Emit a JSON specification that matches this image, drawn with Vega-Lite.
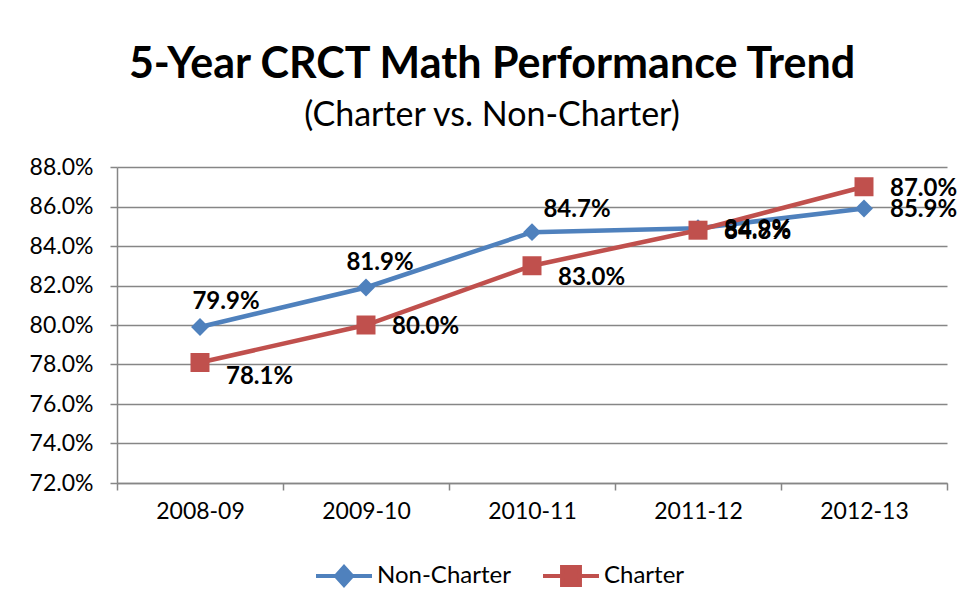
{
  "$schema": "https://vega.github.io/schema/vega-lite/v6.json",
  "width": 830,
  "height": 316,
  "autosize": "none",
  "padding": {"left": 117, "top": 167, "right": 19, "bottom": 125},
  "background": "white",
  "title": {
    "text": "5-Year CRCT Math Performance Trend",
    "subtitle": "(Charter vs. Non-Charter)",
    "anchor": "middle",
    "dx": -40,
    "font": "Lato",
    "fontSize": 43,
    "fontWeight": "bold",
    "color": "black",
    "subtitleFont": "Lato",
    "subtitleFontSize": 34,
    "subtitleColor": "black",
    "subtitlePadding": 12,
    "offset": 23
  },
  "data": {
    "values": [
      {"year": "2008-09", "series": "Non-Charter", "value": 0.799},
      {"year": "2009-10", "series": "Non-Charter", "value": 0.819},
      {"year": "2010-11", "series": "Non-Charter", "value": 0.847},
      {"year": "2011-12", "series": "Non-Charter", "value": 0.849},
      {"year": "2012-13", "series": "Non-Charter", "value": 0.859},
      {"year": "2008-09", "series": "Charter", "value": 0.781},
      {"year": "2009-10", "series": "Charter", "value": 0.800},
      {"year": "2010-11", "series": "Charter", "value": 0.830},
      {"year": "2011-12", "series": "Charter", "value": 0.848},
      {"year": "2012-13", "series": "Charter", "value": 0.870}
    ]
  },
  "encoding": {
    "x": {
      "field": "year", "type": "ordinal",
      "scale": {"type": "band", "paddingInner": 0, "paddingOuter": 0, "domain": ["2008-09","2009-10","2010-11","2011-12","2012-13"]},
      "axis": {
        "title": null, "labelAngle": 0, "labelFont": "Lato", "labelFontSize": 23, "labelColor": "black",
        "tickBand": "extent", "tickSize": 7, "tickColor": "#868686", "tickWidth": 1.5,
        "domainColor": "#868686", "domainWidth": 1.5, "labelPadding": 10, "grid": false
      }
    },
    "y": {
      "field": "value", "type": "quantitative",
      "scale": {"domain": [0.72, 0.88], "nice": false, "zero": false},
      "axis": {
        "title": null, "format": ".1%", "values": [0.72,0.74,0.76,0.78,0.80,0.82,0.84,0.86,0.88],
        "labelFont": "Lato", "labelFontSize": 23, "labelColor": "black", "labelPadding": 17,
        "tickSize": 7, "tickColor": "#868686", "tickWidth": 1.5,
        "domainColor": "#868686", "domainWidth": 1.5,
        "grid": true, "gridColor": "#868686", "gridWidth": 1.5
      }
    }
  },
  "layer": [
    {
      "transform": [{"filter": "datum.series === 'Non-Charter'"}],
      "mark": {"type": "line", "color": "#4F81BD", "strokeWidth": 4.5}
    },
    {
      "transform": [{"filter": "datum.series === 'Non-Charter'"}],
      "mark": {"type": "point", "shape": "diamond", "filled": true, "color": "#4F81BD", "size": 320, "opacity": 1}
    },
    {
      "transform": [{"filter": "datum.series === 'Charter'"}],
      "mark": {"type": "line", "color": "#C0504D", "strokeWidth": 4.5}
    },
    {
      "transform": [{"filter": "datum.series === 'Charter'"}],
      "mark": {"type": "point", "shape": "square", "filled": true, "color": "#C0504D", "size": 361, "opacity": 1}
    },
    {
      "transform": [{"filter": "datum.series === 'Non-Charter' && datum.year === '2008-09'"}],
      "mark": {"type": "text", "font": "Lato", "fontSize": 24, "fontWeight": "bold", "color": "black", "align": "center", "baseline": "middle", "dx": 26, "dy": -25},
      "encoding": {"text": {"field": "value", "type": "quantitative", "format": ".1%"}}
    },
    {
      "transform": [{"filter": "datum.series === 'Non-Charter' && datum.year === '2009-10'"}],
      "mark": {"type": "text", "font": "Lato", "fontSize": 24, "fontWeight": "bold", "color": "black", "align": "center", "baseline": "middle", "dx": 14, "dy": -24},
      "encoding": {"text": {"field": "value", "type": "quantitative", "format": ".1%"}}
    },
    {
      "transform": [{"filter": "datum.series === 'Non-Charter' && datum.year === '2010-11'"}],
      "mark": {"type": "text", "font": "Lato", "fontSize": 24, "fontWeight": "bold", "color": "black", "align": "center", "baseline": "middle", "dx": 45, "dy": -22},
      "encoding": {"text": {"field": "value", "type": "quantitative", "format": ".1%"}}
    },
    {
      "transform": [{"filter": "(datum.series === 'Non-Charter' && (datum.year === '2011-12' || datum.year === '2012-13')) || (datum.series === 'Charter' && (datum.year === '2009-10' || datum.year === '2011-12' || datum.year === '2012-13'))"}],
      "mark": {"type": "text", "font": "Lato", "fontSize": 24, "fontWeight": "bold", "color": "black", "align": "left", "baseline": "middle", "dx": 26, "dy": 2},
      "encoding": {"text": {"field": "value", "type": "quantitative", "format": ".1%"}}
    },
    {
      "transform": [{"filter": "datum.series === 'Charter' && datum.year === '2010-11'"}],
      "mark": {"type": "text", "font": "Lato", "fontSize": 24, "fontWeight": "bold", "color": "black", "align": "left", "baseline": "middle", "dx": 26, "dy": 12},
      "encoding": {"text": {"field": "value", "type": "quantitative", "format": ".1%"}}
    },
    {
      "transform": [{"filter": "datum.series === 'Charter' && datum.year === '2008-09'"}],
      "mark": {"type": "text", "font": "Lato", "fontSize": 24, "fontWeight": "bold", "color": "black", "align": "left", "baseline": "middle", "dx": 26, "dy": 14},
      "encoding": {"text": {"field": "value", "type": "quantitative", "format": ".1%"}}
    },
    {
      "transform": [{"filter": "false"}],
      "mark": {"type": "point", "filled": true},
      "encoding": {
        "fill": {"field": "series", "type": "nominal", "title": null,
          "scale": {"domain": ["Non-Charter", "Charter"], "range": ["#4F81BD", "#C0504D"]}},
        "stroke": {"field": "series", "type": "nominal", "title": null,
          "scale": {"domain": ["Non-Charter", "Charter"], "range": ["#4F81BD", "#C0504D"]}},
        "shape": {"field": "series", "type": "nominal", "title": null,
          "scale": {"domain": ["Non-Charter", "Charter"], "range": [
            "M-1,0L1,0M-0.29,0L0,-0.32L0.29,0L0,0.32Z",
            "M-1,0L1,0M-0.32,-0.32L0.32,-0.32L0.32,0.32L-0.32,0.32Z"
          ]}}
      }
    }
  ],
  "config": {
    "view": {"stroke": null},
    "legend": {
      "orient": "none",
      "legendX": 197,
      "legendY": 379,
      "direction": "horizontal",
      "labelFont": "Lato",
      "labelFontSize": 24,
      "labelColor": "black",
      "labelOffset": 3,
      "symbolSize": 3136,
      "symbolStrokeWidth": 4,
      "symbolOpacity": 1,
      "columnPadding": 24,
      "padding": 0,
      "labelLimit": 300
    }
  }
}
